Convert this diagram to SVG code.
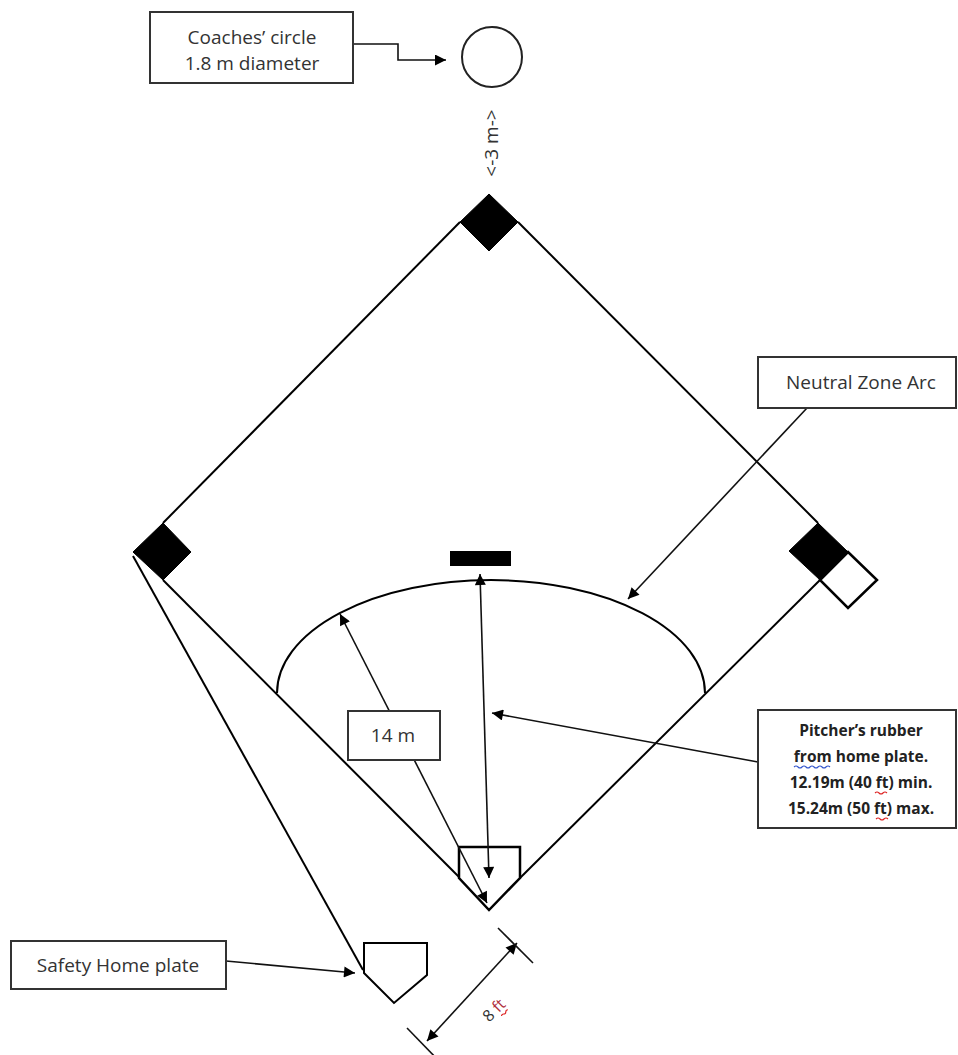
<svg xmlns="http://www.w3.org/2000/svg" width="958" height="1055" viewBox="0 0 958 1055">
<defs>
<style>
.bg{fill:#ffffff}
.field{fill:none;stroke:#000;stroke-width:2}
.base{fill:#000;stroke:#000;stroke-width:1}
.plate{fill:#fff;stroke:#000;stroke-width:2.5}
.box{fill:#fff;stroke:#333;stroke-width:2}
.lbl{font-family:"Open Sans","Liberation Sans",sans-serif;font-size:19px;fill:#333;text-anchor:middle}
.bold{font-family:"Open Sans","Liberation Sans",sans-serif;font-size:15.5px;font-weight:bold;fill:#222;text-anchor:middle}
.conn{fill:none;stroke:#111;stroke-width:1.6}
.wavyb{fill:none;stroke:#3355cc;stroke-width:1.1}
.wavyr{fill:none;stroke:#dd2222;stroke-width:1.1}
</style>
<marker id="ah" viewBox="0 0 10 10" refX="10" refY="5" markerWidth="13" markerHeight="11" markerUnits="userSpaceOnUse" orient="auto-start-reverse">
<path d="M0,0 L10,5 L0,10 z" fill="#000"/>
</marker>
</defs>
<rect class="bg" x="0" y="0" width="958" height="1055"/>

<g id="field">
<line class="field" x1="460" y1="222" x2="163" y2="523"/>
<line class="field" x1="518" y1="222" x2="818" y2="523"/>
<line class="field" x1="163" y1="580" x2="459" y2="877"/>
<line class="field" x1="520" y1="878" x2="820" y2="580"/>
<line class="field" x1="133" y1="556" x2="363" y2="970"/>
</g>

<g id="arc">
<path class="field" d="M277,693 A214,113 0 0 1 705,693"/>
</g>

<g id="second-base">
<polygon class="base" points="489,194 518,222 489,251 460,222"/>
</g>
<g id="third-base">
<polygon class="base" points="163,523 191,552 163,580 133,552"/>
</g>
<g id="first-base">
<polygon class="base" points="818,523 848,552 820,580 789,551"/>
<polygon class="plate" points="848,552 877,580 848,608 820,580"/>
</g>
<g id="pitchers-rubber">
<rect x="450" y="551" width="61" height="15" fill="#000"/>
</g>
<g id="home-plate">
<polygon class="plate" points="459,847 520,847 520,878 489,910 459,878" style="fill:none"/>
</g>
<g id="safety-home-plate">
<polygon class="plate" points="364,943 427,943 427,975 394,1003 364,973" style="fill:none;stroke-width:2"/>
</g>
<g id="coaches-circle">
<circle cx="492" cy="57" r="30" fill="#fff" stroke="#222" stroke-width="2"/>
</g>

<g id="connectors">
<polyline class="conn" points="353,44 398,44 398,60 446,60" marker-end="url(#ah)"/>
<line class="conn" x1="807" y1="408" x2="628" y2="599" marker-end="url(#ah)"/>
<line class="conn" x1="758" y1="762" x2="492" y2="713" marker-end="url(#ah)"/>
<line class="conn" x1="226" y1="961" x2="355" y2="973" marker-end="url(#ah)"/>
<line class="conn" x1="480" y1="574" x2="489" y2="878" marker-start="url(#ah)" marker-end="url(#ah)"/>
<line class="conn" x1="340" y1="614" x2="487" y2="903" marker-start="url(#ah)" marker-end="url(#ah)"/>
<line class="conn" x1="427" y1="1041" x2="517" y2="943" marker-start="url(#ah)" marker-end="url(#ah)"/>
<line class="conn" x1="498" y1="928" x2="533" y2="963"/>
<line class="conn" x1="407" y1="1028" x2="440" y2="1062"/>
</g>

<g id="coaches-label">
<rect class="box" x="150" y="12" width="203" height="71"/>
<text class="lbl" x="252" y="44">Coaches’ circle</text>
<text class="lbl" x="252" y="70">1.8 m diameter</text>
</g>

<g id="three-m-label">
<text class="lbl" x="0" y="0" transform="translate(498,143) rotate(-90)" style="font-size:19px">&lt;-3 m-&gt;</text>
</g>

<g id="neutral-label">
<rect class="box" x="758" y="357" width="198" height="51"/>
<text class="lbl" x="861" y="389">Neutral Zone Arc</text>
</g>

<g id="fourteen-label">
<rect class="box" x="348" y="711" width="92" height="49"/>
<text class="lbl" x="393" y="742">14 m</text>
</g>

<g id="pitcher-label">
<rect class="box" x="758" y="710" width="198" height="118"/>
<text class="bold" x="861" y="736">Pitcher’s rubber</text>
<text class="bold" x="861" y="762">from home plate.</text>
<text class="bold" x="861" y="788">12.19m (40 ft) min.</text>
<text class="bold" x="861" y="814">15.24m (50 ft) max.</text>
<path class="wavyb" d="M794,767 q2,-2 4,0 t4,0 t4,0 t4,0 t4,0 t4,0 t4,0 t4,0 t4,0"/>
<path class="wavyr" d="M875,793 q2,-2 4,0 t4,0 t4,0"/>
<path class="wavyr" d="M876,819 q2,-2 4,0 t4,0 t4,0"/>
</g>

<g id="safety-label">
<rect class="box" x="11" y="941" width="215" height="48"/>
<text class="lbl" x="118" y="972">Safety Home plate</text>
</g>

<g id="eight-ft-label" transform="translate(498,1014) rotate(-45)">
<text class="lbl" x="0" y="0" style="font-size:16px">8 <tspan fill="#b03040">ft</tspan></text>
<path class="wavyr" d="M1,4 q1.5,-1.5 3,0 t3,0 t3,0"/>
</g>
</svg>
